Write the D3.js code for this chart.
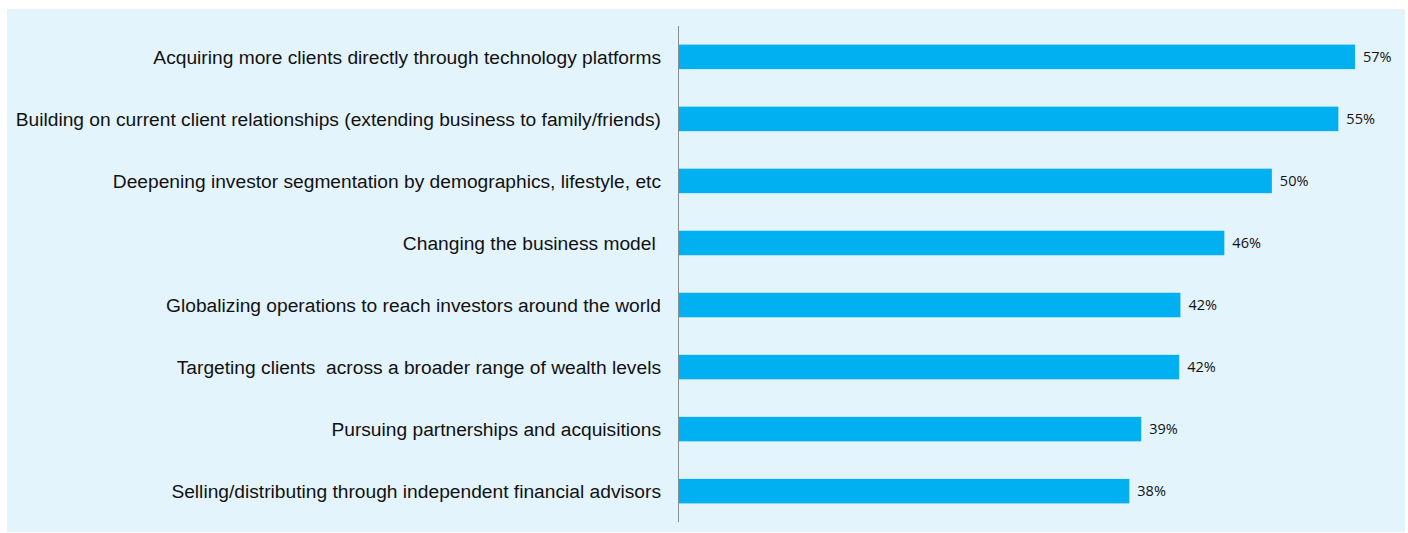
<!DOCTYPE html>
<html>
<head>
<meta charset="utf-8">
<script src="https://cdn.jsdelivr.net/npm/d3@7"></script>
<style>
  body { margin: 0; background: #fff; }
</style>
</head>
<body>
<div id="chart"></div>
<script>
var categories = [
    "Acquiring more clients directly through technology platforms",
    "Building on current client relationships (extending business to family/friends)",
    "Deepening investor segmentation by demographics, lifestyle, etc",
    "Changing the business model ",
    "Globalizing operations to reach investors around the world",
    "Targeting clients  across a broader range of wealth levels",
    "Pursuing partnerships and acquisitions",
    "Selling/distributing through independent financial advisors"
];
var values = [57, 55.6, 50, 46, 42.3, 42.2, 39, 38];
var labels = ["57%", "55%", "50%", "46%", "42%", "42%", "39%", "38%"];

function init(){

    var w = 1408;
    var h = 533;

    var svg = d3.select("#chart")
        .append("svg")
        .attr("width", w)
        .attr("height", h);

    // light blue panel
    svg.append("rect")
        .attr("x", 7)
        .attr("y", 9)
        .attr("width", 1398)
        .attr("height", 523)
        .attr("fill", "#e4f4fc");

    var x0 = 678;
    var x = d3.scaleLinear()
        .domain([0, 57])
        .range([x0, 1355]);

    var y = d3.scaleBand()
        .domain(categories)
        .range([26, 522])
        .paddingInner(0.605)
        .paddingOuter(0.3);

    svg.selectAll("rect.bar")
        .data(values)
        .enter()
        .append("rect")
        .attr("class", "bar")
        .attr("x", x(0))
        .attr("y", function(d, i) { return y(categories[i]); })
        .attr("width", function(d) { return x(d) - x(0); })
        .attr("height", y.bandwidth())
        .attr("fill", "#00b0f0");

    // category labels
    svg.selectAll("text.cat")
        .data(categories)
        .enter()
        .append("text")
        .attr("class", "cat")
        .attr("x", x0 - 17)
        .attr("y", function(d) { return y(d) + y.bandwidth() / 2; })
        .attr("dy", "0.35em")
        .attr("text-anchor", "end")
        .attr("font-family", "Liberation Sans, Arial, sans-serif")
        .attr("font-size", 19.2)
        .attr("fill", "#111")
        .style("white-space", "pre")
        .text(function(d) { return d; });

    // value labels
    svg.selectAll("text.val")
        .data(values)
        .enter()
        .append("text")
        .attr("class", "val")
        .attr("x", function(d) { return x(d) + 8; })
        .attr("y", function(d, i) { return y(categories[i]) + y.bandwidth() / 2; })
        .attr("dy", "0.35em")
        .attr("font-family", "Open Sans, sans-serif")
        .attr("font-size", 14.5)
        .attr("fill", "#111")
        .text(function(d, i) { return labels[i]; });

    // axis line
    svg.append("line")
        .attr("x1", x0 + 0.5)
        .attr("x2", x0 + 0.5)
        .attr("y1", 26)
        .attr("y2", 522)
        .attr("stroke", "#8c8c8c")
        .attr("stroke-width", 1);
}
window.onload = init;
</script>
</body>
</html>
